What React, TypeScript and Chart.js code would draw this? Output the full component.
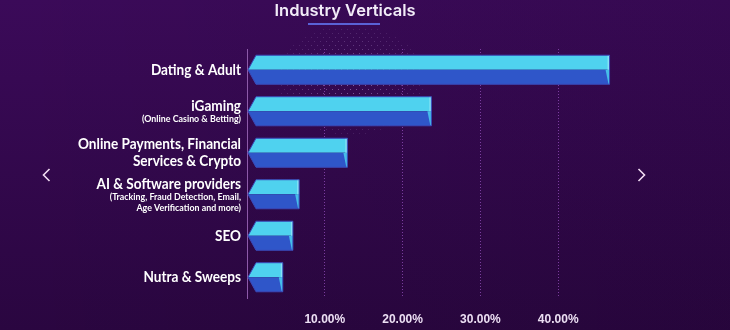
import React, { useEffect, useRef } from "react";
import { Chart, registerables } from "chart.js";

Chart.register(...registerables);

const title = "Industry Verticals";
const categories = [
  "Dating & Adult",
  "iGaming",
  "Online Payments, Financial Services & Crypto",
  "AI & Software providers",
  "SEO",
  "Nutra & Sweeps",
];
const mainLines: string[][] = [
  ["Dating & Adult"],
  ["iGaming"],
  ["Online Payments, Financial", "Services & Crypto"],
  ["AI & Software providers"],
  ["SEO"],
  ["Nutra & Sweeps"],
];
const subLines: string[][] = [
  [],
  ["(Online Casino & Betting)"],
  [],
  ["(Tracking, Fraud Detection, Email,", "Age Verification and more)"],
  [],
  [],
];
const shares = [46.6, 23.7, 12.9, 6.7, 5.9, 4.6];
const tickValues = [10, 20, 30, 40];

const LABEL_FONT = "Lato, 'Open Sans', sans-serif";
const TICK_FONT = "'Liberation Sans', Arial, sans-serif";

const decorPlugin = {
  id: "decor",
  beforeDraw(chart: any) {
    const { ctx, width, height } = chart;
    ctx.save();
    const g = ctx.createLinearGradient(0, 0, 0, height);
    g.addColorStop(0, "#3b0a59");
    g.addColorStop(1, "#2a0640");
    ctx.fillStyle = g;
    ctx.fillRect(0, 0, width, height);
    const g2 = ctx.createLinearGradient(0, 0, width, 0);
    g2.addColorStop(0, "rgba(0,0,0,0)");
    g2.addColorStop(1, "rgba(10,0,20,0.10)");
    ctx.fillStyle = g2;
    ctx.fillRect(0, 0, width, height);

    // halftone dots
    const cx = 350, cy = 80, rx = 75, ry = 55;
    for (let yy = 29; yy < cy + ry; yy += 4) {
      const row = Math.round((yy - 29) / 4);
      for (let xx = cx - rx + (row % 2) * 3; xx < cx + rx; xx += 6) {
        const d = Math.hypot((xx - cx) / rx, (yy - cy) / ry);
        if (d > 1) continue;
        const a = 0.45 * (1 - d) + 0.12;
        ctx.fillStyle = `rgba(205,175,235,${a.toFixed(3)})`;
        ctx.fillRect(xx, yy, 1, 1);
      }
    }

    // title
    ctx.fillStyle = "#f2ecf8";
    ctx.font = "600 16.5px Inter, 'Open Sans', sans-serif";
    ctx.textAlign = "center";
    ctx.textBaseline = "middle";
    ctx.fillText(title, 345, 11);
    ctx.fillStyle = "#5a62d6";
    ctx.fillRect(308, 23, 72, 2);

    // arrows
    ctx.strokeStyle = "#f1dcf2";
    ctx.lineWidth = 1.6;
    ctx.beginPath();
    ctx.moveTo(49.5, 169);
    ctx.lineTo(43.5, 175);
    ctx.lineTo(49.5, 181);
    ctx.stroke();
    ctx.beginPath();
    ctx.moveTo(638.5, 169);
    ctx.lineTo(644.5, 175);
    ctx.lineTo(638.5, 181);
    ctx.stroke();
    ctx.restore();
  },
  afterDatasetsDraw(chart: any) {
    const { ctx } = chart;
    const meta = chart.getDatasetMeta(0);
    ctx.save();
    ctx.font = `bold 15px ${LABEL_FONT}`;
    const mainScale = Math.min(1, 163 / ctx.measureText("Online Payments, Financial").width);
    ctx.font = `bold 10px ${LABEL_FONT}`;
    const subScale = Math.min(1, 99 / ctx.measureText("(Online Casino & Betting)").width);
    meta.data.forEach((el: any, i: number) => {
      const { x, y, base, height } = el.getProps(["x", "y", "base", "height"], true);
      const top = y - height / 2;
      const bottom = y + height / 2;
      const left = base + 1;
      const tip = 8;
      // top half
      ctx.fillStyle = "#4fd2ef";
      ctx.beginPath();
      ctx.moveTo(left, y);
      ctx.lineTo(left + tip, top);
      ctx.lineTo(x, top);
      ctx.lineTo(x, y);
      ctx.closePath();
      ctx.fill();
      // bottom half
      ctx.fillStyle = "#2f56c9";
      ctx.beginPath();
      ctx.moveTo(left, y);
      ctx.lineTo(x, y);
      ctx.lineTo(x, bottom);
      ctx.lineTo(left + tip, bottom);
      ctx.closePath();
      ctx.fill();
      // right end shading
      ctx.fillStyle = "#46bde9";
      ctx.beginPath();
      ctx.moveTo(x - 4, y);
      ctx.lineTo(x, y);
      ctx.lineTo(x, bottom);
      ctx.lineTo(x - 1, bottom);
      ctx.closePath();
      ctx.fill();
      ctx.fillStyle = "#86e3f6";
      ctx.fillRect(x - 2, top, 2, height / 2);
      // outline
      ctx.strokeStyle = "#3a49b8";
      ctx.lineWidth = 1;
      ctx.beginPath();
      ctx.moveTo(left, y);
      ctx.lineTo(left + tip, top);
      ctx.lineTo(x, top);
      ctx.lineTo(x, bottom);
      ctx.lineTo(left + tip, bottom);
      ctx.closePath();
      ctx.stroke();

      // labels: line centres relative to first line, block centred on bar
      const mains = mainLines[i];
      const subs = subLines[i];
      const items: { t: string; s: number; k: number; off: number }[] = [];
      let off = 0;
      mains.forEach((t, k) => {
        if (k > 0) off += 17;
        items.push({ t, s: 15, k: mainScale, off });
      });
      subs.forEach((t, k) => {
        off += k === 0 ? 13 : 11;
        items.push({ t, s: 10, k: subScale, off });
      });
      const start = y - off / 2 + (subs.length ? 1.5 : 0);
      ctx.fillStyle = "#ffffff";
      ctx.textAlign = "right";
      ctx.textBaseline = "middle";
      const rightX = base - 6;
      items.forEach((it) => {
        ctx.save();
        ctx.font = `bold ${it.s}px ${LABEL_FONT}`;
        ctx.translate(rightX, start + it.off);
        ctx.scale(it.k, 1);
        ctx.fillText(it.t, 0, 0);
        ctx.restore();
      });
    });
    ctx.restore();
  },
};

export default function App() {
  const ref = useRef<HTMLCanvasElement | null>(null);
  useEffect(() => {
    if (!ref.current) return;
    const chart = new Chart(ref.current, {
      type: "bar",
      data: {
        labels: categories,
        datasets: [
          {
            data: shares,
            backgroundColor: "rgba(0,0,0,0)",
            borderWidth: 0,
            barPercentage: 0.7,
            categoryPercentage: 1,
          },
        ],
      },
      options: {
        indexAxis: "y",
        responsive: false,
        maintainAspectRatio: false,
        animation: false,
        devicePixelRatio: 1,
        layout: { padding: { left: 247, right: 94, top: 49, bottom: 4 } },
        plugins: { legend: { display: false }, tooltip: { enabled: false }, title: { display: false } },
        scales: {
          x: {
            min: 0,
            max: 50,
            afterBuildTicks: (scale: any) => {
              scale.ticks = tickValues.map((v) => ({ value: v }));
            },
            afterFit: (scale: any) => {
              scale.height = 28;
            },
            grid: { color: "rgba(150,80,190,0.75)", lineWidth: 1, drawTicks: false },
            border: { display: false, dash: [1, 2] },
            ticks: {
              color: "#ecdff3",
              padding: 14,
              font: { family: TICK_FONT, size: 12, weight: "bold" },
              callback: (v: any) => Number(v).toFixed(2) + "%",
            },
          },
          y: {
            grid: { display: false, drawTicks: false },
            ticks: { display: false },
            border: { display: true, color: "#8d5aa9", width: 1 },
          },
        },
      },
      plugins: [decorPlugin],
    } as any);
    return () => chart.destroy();
  }, []);
  return (
    <div style={{ position: "fixed", left: 0, top: 0, width: 730, height: 330 }}>
      <canvas ref={ref} width={730} height={330} style={{ display: "block" }} />
    </div>
  );
}
